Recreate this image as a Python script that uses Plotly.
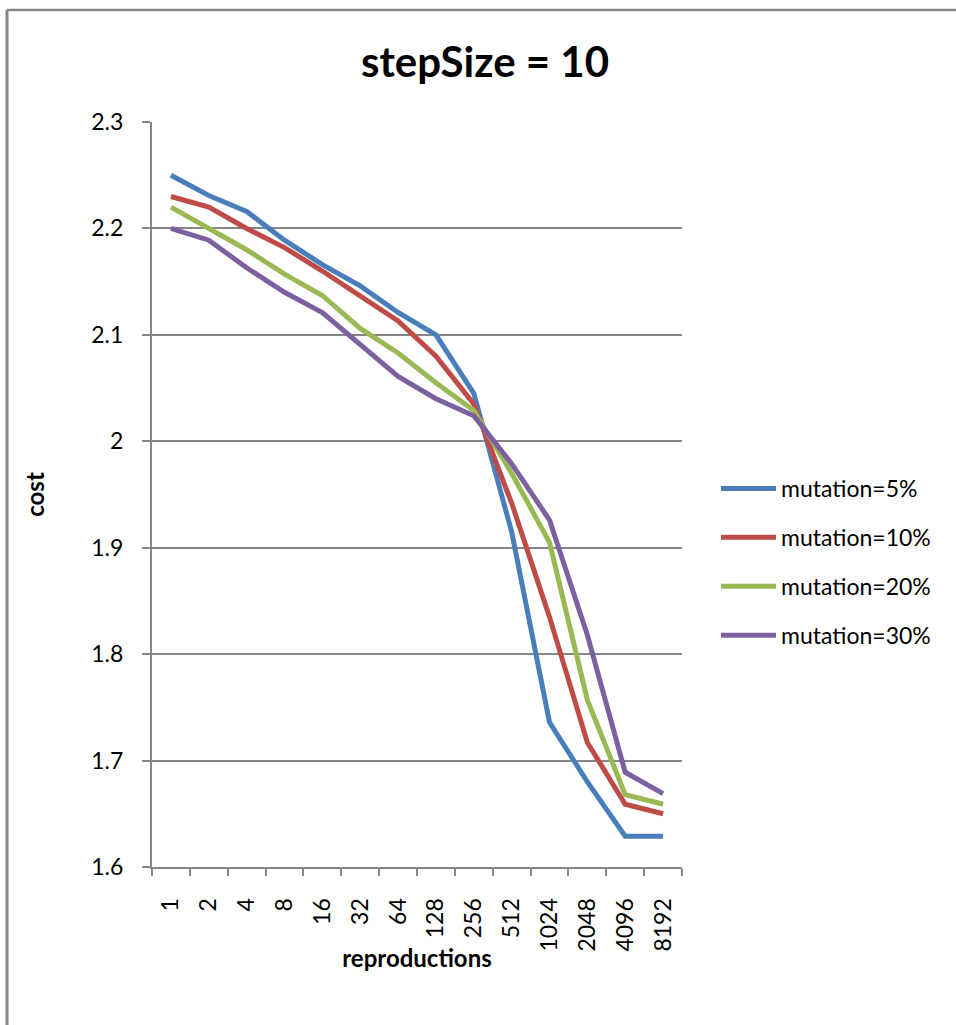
import plotly.graph_objects as go

categories = ["1", "2", "4", "8", "16", "32", "64", "128", "256", "512", "1024", "2048", "4096", "8192"]
mut5 = [2.250, 2.231, 2.216, 2.189, 2.166, 2.146, 2.121, 2.100, 2.045, 1.915, 1.736, 1.680, 1.629, 1.629]
mut10 = [2.230, 2.220, 2.200, 2.182, 2.160, 2.136, 2.113, 2.080, 2.035, 1.942, 1.835, 1.717, 1.659, 1.650]
mut20 = [2.220, 2.200, 2.180, 2.157, 2.137, 2.106, 2.083, 2.055, 2.029, 1.970, 1.905, 1.757, 1.668, 1.659]
mut30 = [2.200, 2.189, 2.163, 2.140, 2.121, 2.091, 2.061, 2.040, 2.024, 1.979, 1.926, 1.818, 1.689, 1.669]
series_names = ["mutation=5%", "mutation=10%", "mutation=20%", "mutation=30%"]
series_colors = ["#4A7EBB", "#BE4B48", "#98B954", "#7D60A0"]
y_tickvals = [1.6, 1.7, 1.8, 1.9, 2.0, 2.1, 2.2, 2.3]
y_ticktext = ["1.6", "1.7", "1.8", "1.9", "2", "2.1", "2.2", "2.3"]

FONT = "Lato"
GRID = "#868686"

fig = go.Figure()
for i, (name, vals, col) in enumerate(zip(series_names, [mut5, mut10, mut20, mut30], series_colors)):
    fig.add_trace(go.Scatter(
        x=categories, y=vals, mode="lines", name=name,
        line=dict(color=col, width=5), legendgroup=f"g{i}",
    ))

W, H = 956, 1025
L, R, T, B = 152, 274, 122, 158
pw, ph = W - L - R, H - T - B

fig.update_layout(
    width=W, height=H,
    margin=dict(l=L, r=R, t=T, b=B, autoexpand=False),
    paper_bgcolor="white", plot_bgcolor="white",
    font=dict(family=FONT, color="black"),
    title=dict(text="<b>stepSize = 10</b>", x=(485 - L) / pw, xref="paper", xanchor="center",
               y=1 - 62 / H, yanchor="middle", font=dict(size=42, family=FONT, color="black")),
    showlegend=True,
    legend=dict(x=(716 - L) / pw, xanchor="left", y=(867 - 562) / ph, yanchor="middle",
                font=dict(size=23, family=FONT, color="black"), tracegroupgap=16,
                itemwidth=55, bgcolor="rgba(0,0,0,0)"),
)

fig.update_xaxes(
    type="category", tickson="boundaries", ticks="outside", ticklen=7, tickwidth=1.5,
    tickcolor=GRID, showline=True, linecolor=GRID, linewidth=2, showgrid=False,
    tickangle=-90, tickfont=dict(size=23, family=FONT, color="black"),
    ticklabelstandoff=20,
    title=dict(text="<b>reproductions</b>", font=dict(size=24, family=FONT, color="black"), standoff=0),
    range=[-0.5, len(categories) - 0.5], fixedrange=True,
)
fig.update_yaxes(
    range=[1.6, 2.3], tickvals=y_tickvals, ticktext=y_ticktext,
    ticks="outside", ticklen=8, tickwidth=1.5, tickcolor=GRID,
    showline=True, linecolor=GRID, linewidth=2,
    showgrid=True, gridcolor=GRID, gridwidth=1.5, zeroline=False,
    tickfont=dict(size=23, family=FONT, color="black"), ticklabelstandoff=14,
    title=dict(text="<b>cost</b>", font=dict(size=24, family=FONT, color="black"), standoff=40),
)

# outer chart frame (left and top edges visible)
frame_top = 1 + (T - 10) / ph
frame_left = (7 - L) / pw
fig.add_shape(type="line", xref="paper", yref="paper",
              x0=frame_left, x1=frame_left, y0=-0.5, y1=frame_top,
              line=dict(color=GRID, width=3))
fig.add_shape(type="line", xref="paper", yref="paper",
              x0=frame_left, x1=2.0, y0=frame_top, y1=frame_top,
              line=dict(color=GRID, width=2.5))

fig.write_html("out.html")
